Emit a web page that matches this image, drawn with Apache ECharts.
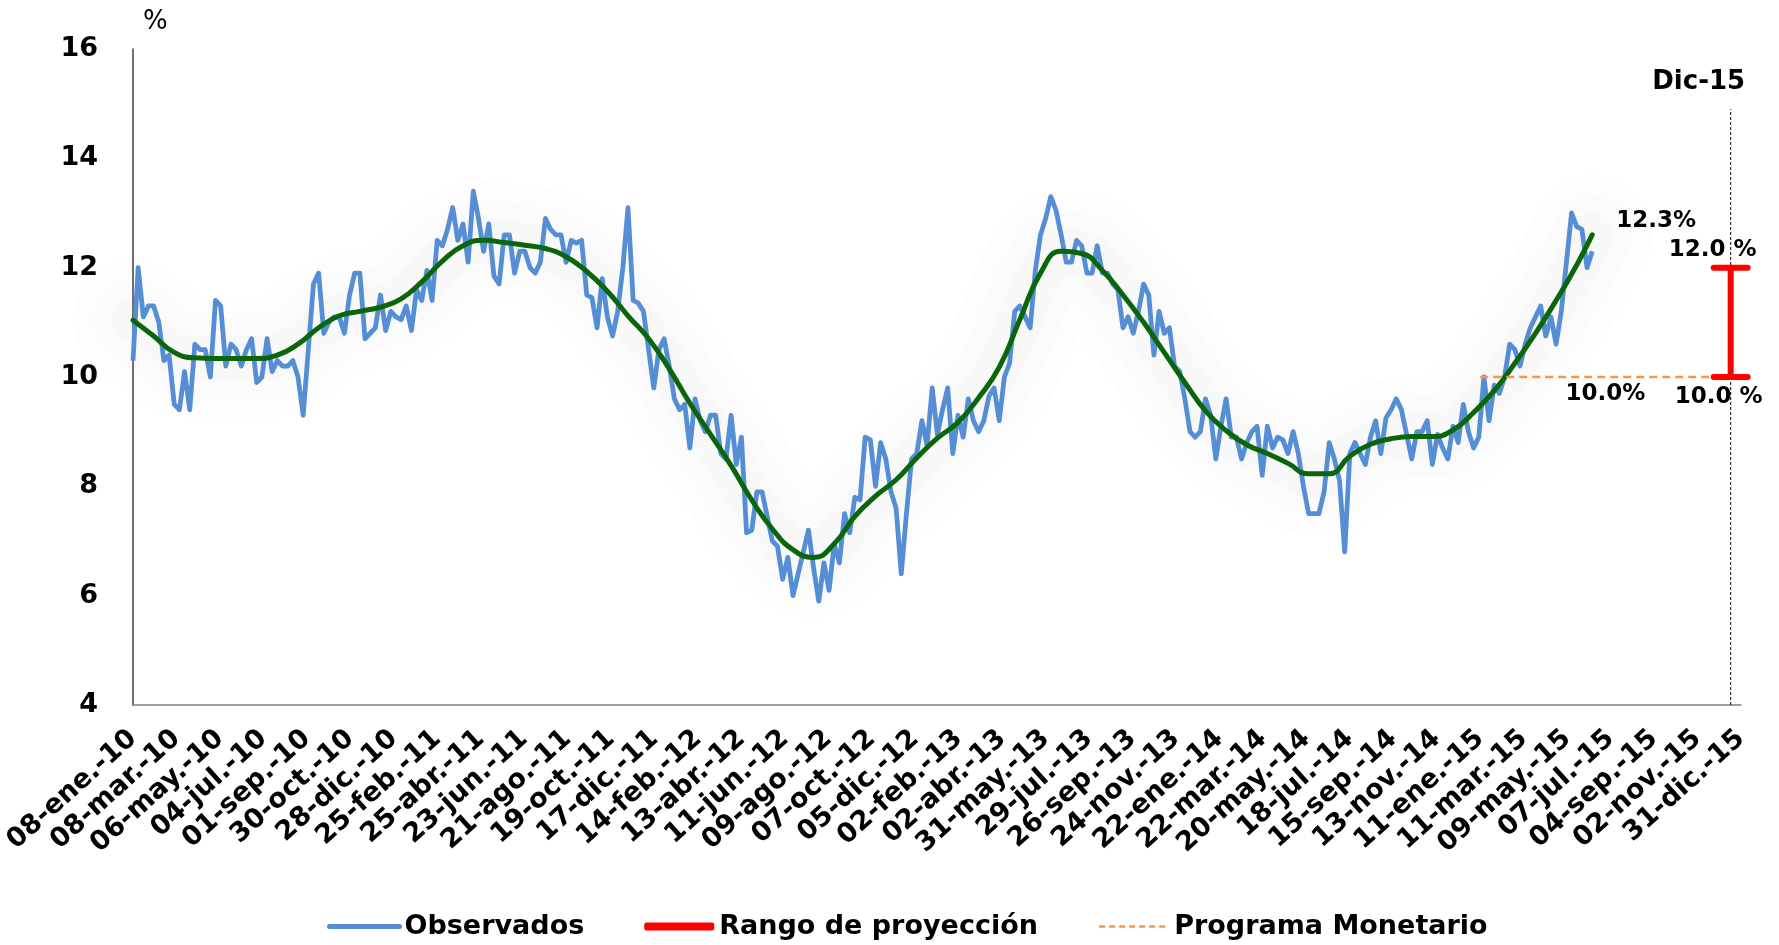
<!DOCTYPE html>
<html>
<head>
<meta charset="utf-8">
<title>Observados y rango de proyección</title>
<script src="https://cdn.jsdelivr.net/npm/echarts@6/dist/echarts.min.js"></script>
<style>
  html, body { margin: 0; padding: 0; background: #ffffff; }
  #chart { width: 1779px; height: 945px; }
</style>
</head>
<body>
<div id="chart"></div>
<script>
// x axis: days counted from 08-ene-10, one tick every 59 days
const tickStepDays = 59;
const tickLabels = [
  '08-ene.-10', '08-mar.-10', '06-may.-10', '04-jul.-10', '01-sep.-10', '30-oct.-10', '28-dic.-10',
  '25-feb.-11', '25-abr.-11', '23-jun.-11', '21-ago.-11', '19-oct.-11', '17-dic.-11',
  '14-feb.-12', '13-abr.-12', '11-jun.-12', '09-ago.-12', '07-oct.-12', '05-dic.-12',
  '02-feb.-13', '02-abr.-13', '31-may.-13', '29-jul.-13', '26-sep.-13', '24-nov.-13',
  '22-ene.-14', '22-mar.-14', '20-may.-14', '18-jul.-14', '15-sep.-14', '13-nov.-14',
  '11-ene.-15', '11-mar.-15', '09-may.-15', '07-jul.-15', '04-sep.-15', '02-nov.-15', '31-dic.-15'
];

// Weekly observed rate (%), first observation on 08-ene-10
const observed = [
  10.3, 12.0, 11.1, 11.3, 11.3, 11.0, 10.3, 10.4, 9.5, 9.4,
  10.1, 9.4, 10.6, 10.5, 10.5, 10.0, 11.4, 11.3, 10.2, 10.6,
  10.5, 10.2, 10.5, 10.7, 9.9, 10.0, 10.7, 10.1, 10.3, 10.2,
  10.2, 10.3, 10.0, 9.3, 10.5, 11.7, 11.9, 10.8, 11.0, 11.1,
  11.1, 10.8, 11.5, 11.9, 11.9, 10.7, 10.8, 10.9, 11.5, 10.85,
  11.2, 11.1, 11.05, 11.3, 10.85, 11.6, 11.4, 11.95, 11.4, 12.5,
  12.4, 12.7, 13.1, 12.5, 12.8, 12.1, 13.4, 12.9, 12.3, 12.8,
  11.85, 11.7, 12.6, 12.6, 11.9, 12.3, 12.3, 12.0, 11.9, 12.1,
  12.9, 12.7, 12.6, 12.6, 12.1, 12.5, 12.45, 12.5, 11.5, 11.45,
  10.9, 11.8, 11.1, 10.75, 11.2, 12.0, 13.1, 11.4, 11.35, 11.2,
  10.5, 9.8, 10.5, 10.7, 10.2, 9.6, 9.4, 9.5, 8.7, 9.6,
  9.2, 9.0, 9.3, 9.3, 8.6, 8.5, 9.3, 8.4, 8.9, 7.15,
  7.2, 7.9, 7.9, 7.45, 7.0, 6.9, 6.3, 6.7, 6.0, 6.4,
  6.8, 7.2, 6.5, 5.9, 6.6, 6.1, 6.95, 6.6, 7.5, 7.15,
  7.8, 7.75, 8.9, 8.85, 8.0, 8.8, 8.5, 7.9, 7.6, 6.4,
  7.5, 8.5, 8.6, 9.2, 8.75, 9.8, 8.95, 9.4, 9.8, 8.6,
  9.3, 8.9, 9.6, 9.2, 9.0, 9.2, 9.65, 9.8, 9.2, 10.0,
  10.25, 11.2, 11.3, 11.1, 10.9, 11.95, 12.6, 12.9, 13.3, 13.05,
  12.6, 12.1, 12.1, 12.5, 12.4, 11.9, 11.9, 12.4, 11.9, 11.9,
  11.7, 11.6, 10.9, 11.1, 10.8, 11.2, 11.7, 11.5, 10.4, 11.2,
  10.8, 10.9, 10.2, 10.1, 9.6, 9.0, 8.9, 9.0, 9.6, 9.3,
  8.5, 9.1, 9.6, 8.9, 8.9, 8.5, 8.8, 9.0, 9.1, 8.2,
  9.1, 8.7, 8.9, 8.85, 8.6, 9.0, 8.6, 8.0, 7.5, 7.5,
  7.5, 7.9, 8.8, 8.5, 8.1, 6.8, 8.6, 8.8, 8.6, 8.4,
  8.9, 9.2, 8.6, 9.25, 9.4, 9.6, 9.4, 8.95, 8.5, 9.0,
  9.0, 9.2, 8.4, 8.95, 8.7, 8.5, 9.1, 8.8, 9.5, 9.0,
  8.7, 8.9, 10.0, 9.2, 9.85, 9.7, 10.0, 10.6, 10.5, 10.2,
  10.6, 10.9, 11.1, 11.3, 10.75, 11.1, 10.6, 11.2, 12.1, 13.0,
  12.75, 12.7, 12.0, 12.3
];

// Smoothed trend: week index and value
const trendWeek = [
  0, 4, 8, 12, 16, 20, 24, 28, 32, 36, 40, 44, 48, 52, 56, 60, 64, 68, 72, 76,
  80, 84, 88, 92, 96, 100, 104, 108, 112, 116, 120, 124, 128, 132, 136, 140, 144, 148, 152, 156,
  160, 164, 168, 172, 176, 180, 184, 188, 192, 196, 200, 204, 208, 212, 216, 220, 224, 228, 232, 236,
  240, 244, 248, 252, 256, 260, 264, 268, 272, 276, 280, 283
];
const trendValue = [
  11.04, 10.75, 10.45, 10.35, 10.34, 10.34, 10.34, 10.4, 10.6, 10.9,
  11.12, 11.2, 11.28, 11.43, 11.74, 12.12, 12.4, 12.5, 12.46, 12.41,
  12.35, 12.2, 11.93, 11.57, 11.12, 10.7, 10.15, 9.52, 8.95, 8.38,
  7.75, 7.22, 6.84, 6.7, 6.95, 7.45, 7.82, 8.12, 8.52, 8.88,
  9.17, 9.62, 10.18, 11.05, 11.9, 12.3, 12.26, 11.95, 11.5, 11.0,
  10.45, 9.9, 9.38, 9.02, 8.76, 8.6, 8.42, 8.23, 8.23, 8.55,
  8.77, 8.87, 8.91, 8.91, 9.03, 9.35, 9.75, 10.25, 10.8, 11.4,
  12.05, 12.6
];

// Projection for December 2015 and monetary program
const projDay = 2169;
const projLabel = 'Dic-15';
const projTop = 14.9;
const rangeLow = 10.0;
const rangeHigh = 12.0;
const programStartDay = 1829;
const programValue = 10.0;

const FONT = "'DejaVu Sans', sans-serif";
const daysPerWeek = 7;

const observedData = observed.map((v, i) => [i * daysPerWeek, v]);
const trendData = trendWeek.map((w, i) => [w * daysPerWeek, trendValue[i]]);
const lastObs = observedData[observedData.length - 1];

const chart = echarts.init(document.getElementById('chart'), null, { renderer: 'canvas' });

// soft grey glow around the trend line
function hazeSeries(width, alpha) {
  return {
    type: 'line', data: trendData, smooth: true, symbol: 'none', silent: true, z: 1,
    lineStyle: { color: 'rgba(0,0,0,' + alpha + ')', width: width, join: 'round', cap: 'round' }
  };
}

const hiddenSymbol = { color: 'rgba(0,0,0,0)', borderWidth: 0, opacity: 0 };

const option = {
  animation: false,
  backgroundColor: '#ffffff',
  grid: { left: 133, right: 38, top: 49, bottom: 240, containLabel: false },
  xAxis: {
    type: 'value',
    min: 0,
    max: tickStepDays * (tickLabels.length - 1),
    interval: tickStepDays,
    axisLine: { show: true, lineStyle: { color: '#7f7f7f', width: 1.5 } },
    axisTick: { show: false },
    splitLine: { show: false },
    axisLabel: {
      rotate: 42, margin: 30, fontSize: 27, fontWeight: 'bold', color: '#000', fontFamily: FONT,
      showMinLabel: true, showMaxLabel: true,
      formatter: v => tickLabels[Math.round(v / tickStepDays)] || ''
    }
  },
  yAxis: {
    type: 'value', min: 4, max: 16, interval: 2,
    name: '%',
    nameLocation: 'end',
    nameGap: 14,
    nameTextStyle: { fontFamily: FONT, fontSize: 26, color: '#000', align: 'left', padding: [0, 0, 0, 10] },
    axisLine: { show: true, lineStyle: { color: '#404040', width: 1.5 } },
    axisTick: { show: false },
    splitLine: { show: false },
    axisLabel: { margin: 35, fontSize: 27, fontWeight: 'bold', color: '#000', fontFamily: FONT }
  },
  legend: {
    left: 322, top: 908,
    itemWidth: 70, itemHeight: 8, itemGap: 60,
    selectedMode: false,
    textStyle: { fontFamily: FONT, fontSize: 27, fontWeight: 'bold', color: '#000' },
    data: [
      { name: 'Observados', lineStyle: { width: 5, cap: 'round' }, itemStyle: hiddenSymbol },
      { name: 'Rango de proyección', icon: 'roundRect' },
      { name: 'Programa Monetario', lineStyle: { width: 2.5, type: [6, 4] }, itemStyle: hiddenSymbol }
    ]
  },
  series: [
    hazeSeries(120, 0.006),
    hazeSeries(80, 0.008),
    hazeSeries(45, 0.011),
    {
      name: 'Observados', type: 'line', data: observedData, symbol: 'none', z: 2,
      lineStyle: { color: '#558ED5', width: 4.8, join: 'round' },
      itemStyle: { color: '#558ED5' },
      markPoint: {
        symbol: 'circle', symbolSize: 0, silent: true, animation: false,
        data: [{ coord: lastObs, value: lastObs[1] }],
        label: {
          show: true, position: 'right', distance: 24, offset: [0, -30],
          formatter: p => p.value.toFixed(1) + '%',
          fontFamily: FONT, fontSize: 23, fontWeight: 'bold', color: '#000'
        }
      }
    },
    {
      name: 'Tendencia', type: 'line', data: trendData, smooth: true, symbol: 'none', z: 3,
      lineStyle: { color: '#0B650B', width: 5, join: 'round', cap: 'round' }
    },
    {
      name: 'Programa Monetario', type: 'line', symbol: 'none', z: 3, clip: false,
      data: [[programStartDay, programValue], [projDay, programValue]],
      lineStyle: { color: '#F79646', width: 2.5, type: [8, 5] },
      itemStyle: { color: '#F79646' },
      markPoint: {
        symbol: 'circle', symbolSize: 0, silent: true, animation: false,
        data: [{ coord: [(programStartDay + projDay) / 2, programValue], value: programValue }],
        label: {
          show: true, position: 'bottom', distance: 6,
          formatter: p => p.value.toFixed(1) + '%',
          fontFamily: FONT, fontSize: 23, fontWeight: 'bold', color: '#000'
        }
      }
    },
    {
      name: 'Corte', type: 'line', symbol: 'none', z: 4, clip: false,
      data: [[projDay, 4], [projDay, projTop]],
      lineStyle: { color: '#000', width: 1, type: [3, 2] },
      markPoint: {
        symbol: 'circle', symbolSize: 0, silent: true, animation: false,
        data: [{ coord: [projDay, projTop], value: projLabel }],
        label: {
          show: true, position: 'top', distance: 14, offset: [-32, 0],
          formatter: p => p.value,
          fontFamily: FONT, fontSize: 26, fontWeight: 'bold', color: '#000'
        }
      }
    },
    {
      name: 'Rango de proyección', type: 'custom', z: 5, clip: false,
      itemStyle: { color: '#FF0000' },
      data: [[projDay, rangeLow, rangeHigh]],
      encode: { x: 0, y: [1, 2] },
      renderItem: (params, api) => {
        const x = api.value(0), lo = api.value(1), hi = api.value(2);
        const pHi = api.coord([x, hi]);
        const pLo = api.coord([x, lo]);
        const cap = 17;
        const st = { stroke: '#FF0000', lineWidth: 6, lineCap: 'round' };
        const txt = { fill: '#000', font: "bold 23px 'DejaVu Sans', sans-serif", align: 'center', verticalAlign: 'middle' };
        return {
          type: 'group',
          children: [
            { type: 'line', shape: { x1: pHi[0], y1: pHi[1], x2: pLo[0], y2: pLo[1] }, style: st },
            { type: 'line', shape: { x1: pHi[0] - cap, y1: pHi[1], x2: pHi[0] + cap, y2: pHi[1] }, style: st },
            { type: 'line', shape: { x1: pLo[0] - cap, y1: pLo[1], x2: pLo[0] + cap, y2: pLo[1] }, style: st },
            { type: 'text', x: pHi[0] - 18, y: pHi[1] - 18, style: Object.assign({ text: hi.toFixed(1) + ' %' }, txt) },
            { type: 'text', x: pLo[0] - 12, y: pLo[1] + 20, style: Object.assign({ text: lo.toFixed(1) + ' %' }, txt) }
          ]
        };
      }
    }
  ]
};

chart.setOption(option);
</script>
</body>
</html>
